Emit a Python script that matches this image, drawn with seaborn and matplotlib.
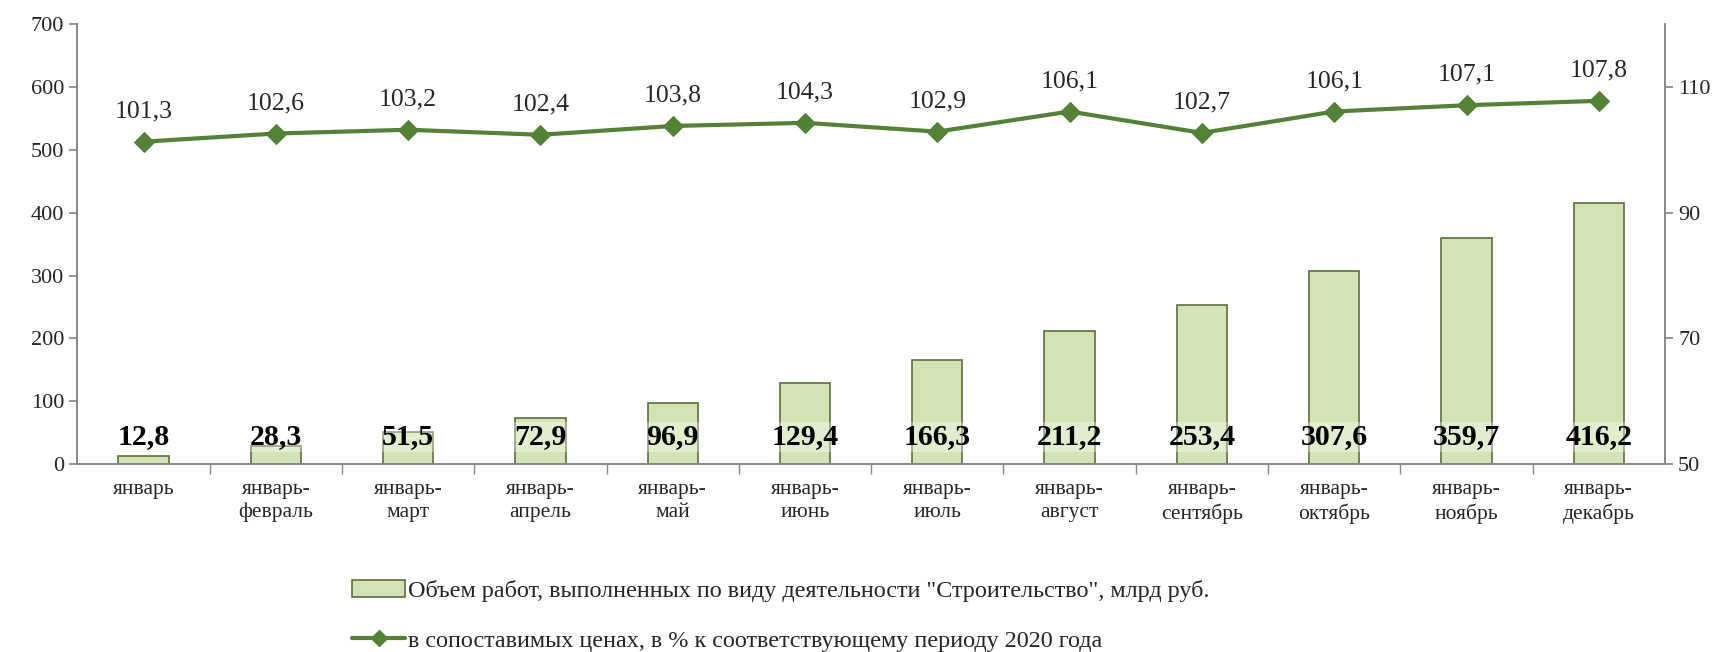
import numpy as np
import pandas as pd
import seaborn as sns
import matplotlib
matplotlib.use('Agg')
import matplotlib.pyplot as plt
from matplotlib.ticker import FixedLocator

periods = ["январь", "январь-\nфевраль", "январь-\nмарт", "январь-\nапрель", "январь-\nмай",
           "январь-\nиюнь", "январь-\nиюль", "январь-\nавгуст", "январь-\nсентябрь",
           "январь-\nоктябрь", "январь-\nноябрь", "январь-\nдекабрь"]
volume = [12.8, 28.3, 51.5, 72.9, 96.9, 129.4, 166.3, 211.2, 253.4, 307.6, 359.7, 416.2]
index_pct = [101.3, 102.6, 103.2, 102.4, 103.8, 104.3, 102.9, 106.1, 102.7, 106.1, 107.1, 107.8]

bar_label = 'Объем работ, выполненных по виду деятельности "Строительство", млрд руб.'
line_label = "в сопоставимых ценах, в % к соответствующему периоду 2020 года"

sns.set_theme(style="white")
plt.rcParams['font.family'] = ['Liberation Serif', 'DejaVu Serif']

df = pd.DataFrame({"period": periods, "volume": volume, "index": index_pct})
df["x"] = np.arange(len(df))

fig = plt.figure(figsize=(17.2, 6.52), dpi=100)
ax = fig.add_axes([0.045, 0.288, 0.923, 0.675])

sns.barplot(data=df, x="period", y="volume", ax=ax, color="#d4e3b5",
            edgecolor="#5d6e3c", linewidth=1.2, width=0.38, saturation=1)
ax.set_ylim(0, 700)
ax.set_xlim(-0.5, len(df) - 0.5)
ax.set_yticks(range(0, 701, 100))
ax.set_xlabel("")
ax.set_ylabel("")

for i, v in enumerate(volume):
    ax.text(i, 22, f"{v:.1f}".replace(".", ","), ha="center", va="bottom",
            fontsize=21.5, fontweight="bold", color="black",
            bbox=dict(boxstyle="square,pad=0.05", fc="white", ec="none", alpha=0.35))

ax2 = ax.twinx()
sns.lineplot(data=df, x="x", y="index", ax=ax2, color="#538135", linewidth=3,
             marker="D", markersize=10, markeredgecolor="#538135")
ax2.set_ylim(50, 120)
ax2.set_yticks([50, 70, 90, 110])
ax2.set_ylabel("")
ax2.set_xlabel("")
for i, v in enumerate(index_pct):
    ax2.annotate(f"{v:.1f}".replace(".", ","), (i, v), xytext=(0, 14),
                 textcoords="offset points", ha="center", va="bottom", fontsize=18.5)

# ticks between categories
ax.set_xticks(range(len(df)))
ax.set_xticklabels(periods, fontsize=15.5, linespacing=1.3)
ax.tick_params(axis="x", length=0, pad=11)
ax.xaxis.set_minor_locator(FixedLocator(np.arange(0.5, len(df) - 0.5, 1)))
ax.tick_params(axis="x", which="minor", length=7, color="#888888", bottom=True)
ax.tick_params(axis="y", length=6, color="#888888", labelsize=16, left=True)
ax2.tick_params(axis="y", length=6, color="#888888", labelsize=16, right=True)

for a in (ax, ax2):
    a.spines["top"].set_visible(False)
    for s in ("left", "right", "bottom"):
        a.spines[s].set_color("#888888")
        a.spines[s].set_linewidth(1.2)
    a.grid(False)

handles = [plt.Rectangle((0, 0), 1, 1, fc="#d4e3b5", ec="#5d6e3c", lw=1.2),
           plt.Line2D([], [], color="#538135", lw=3, marker="D", markersize=8)]
fig.legend(handles, [bar_label, line_label], loc="upper left",
           bbox_to_anchor=(0.199, 0.125), frameon=False, fontsize=17.4,
           labelspacing=1.15, handlelength=2.2, handletextpad=0.1, borderaxespad=0)

fig.savefig("out.png", dpi=100)
